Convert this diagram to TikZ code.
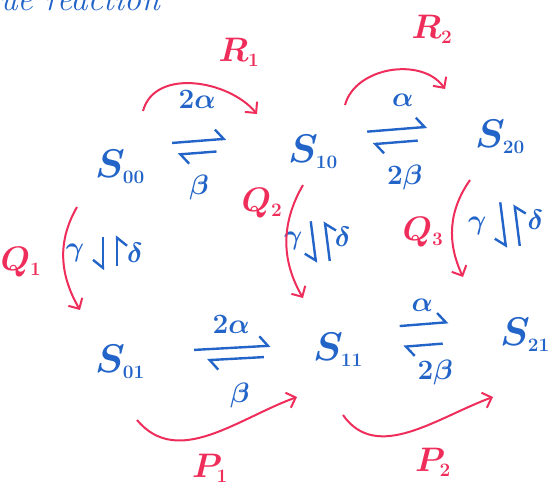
\documentclass[tikz,border=0pt]{standalone}
\usepackage{fix-cm}
\usetikzlibrary{arrows.meta, calc, positioning}
\definecolor{ink}{RGB}{35,100,200}
\definecolor{pen}{RGB}{238,45,90}
\tikzstyle{state} = [
    text=ink,
    font=\fontsize{40}{44}\selectfont\boldmath
]
\tikzstyle{rate} = [
    text=ink,
    font=\fontsize{28}{30}\selectfont\boldmath
]
\tikzstyle{tag} = [
    text=pen,
    font=\fontsize{34}{36}\selectfont\boldmath
]
\tikzstyle{harp} = [ink, line width=2.4pt,
    -{Straight Barb[left, length=8pt, width=20pt]}]
\tikzstyle{harpr} = [ink, line width=2.4pt,
    -{Straight Barb[right, length=8pt, width=20pt]}]
\tikzstyle{flow} = [pen, line width=2pt,
    -{Straight Barb[length=8pt, width=16pt]}]
\newcommand{\sub}[1]{_{\mbox{\fontsize{19}{20}\selectfont\bfseries #1}}}

\begin{document}
\begin{tikzpicture}[x=1pt, y=1pt, node distance=190pt]

\useasboundingbox (0,0) rectangle (556,491);
\clip (0,0) rectangle (556,491);

\node (title) [text=ink, font=\fontsize{34}{36}\selectfont\itshape,
    anchor=base west] at (-4,480) {ue reaction};

% states
\node (s00) [state] at (120,324) {$S\sub{00}$};
\node (s10) [state, right of=s00, xshift=3pt, yshift=15pt]
{$S\sub{10}$};
\node (s20) [state, right of=s10, xshift=-3pt, yshift=15pt]
{$S\sub{20}$};
\node (s01) [state, below of=s00, node distance=195pt]
{$S\sub{01}$};
\node (s11) [state, right of=s01, xshift=28pt, yshift=12pt]
{$S\sub{11}$};
\node (s21) [state, right of=s11, xshift=-3pt, yshift=15pt]
{$S\sub{21}$};

% horizontal rates
\draw [harp] ($(s00)!.27!(s10)+(0,20)$) -- ($(s00)!.55!(s10)+(0,20)$);
\draw [harp] ($(s00)!.50!(s10)+(0,8)$) -- ($(s00)!.30!(s10)+(0,8)$);
\node (a1) [rate] at ($(s00)!.40!(s10)+(0,62)$) {$2\alpha$};
\node (b1) [rate] at ($(s00)!.41!(s10)+(0,-27)$) {$\beta$};

\draw [harp] ($(s10)!.29!(s20)+(0,16)$) -- ($(s10)!.61!(s20)+(0,16)$);
\draw [harp] ($(s10)!.56!(s20)+(0,3)$) -- ($(s10)!.32!(s20)+(0,3)$);
\node (a2) [rate] at ($(s10)!.48!(s20)+(0,45)$) {$\alpha$};
\node (b2) [rate] at ($(s10)!.49!(s20)+(0,-33)$) {$2\beta$};

\draw [harp] ($(s01)!.34!(s11)+(0,8)$) -- ($(s01)!.69!(s11)+(0,8)$);
\draw [harp] ($(s01)!.66!(s11)+(0,-3)$) -- ($(s01)!.40!(s11)+(0,-3)$);
\node (a3) [rate] at ($(s01)!.51!(s11)+(0,31)$) {$2\alpha$};
\node (b3) [rate] at ($(s01)!.55!(s11)+(0,-40)$) {$\beta$};

\draw [harp] ($(s11)!.33!(s21)+(0,19)$) -- ($(s11)!.59!(s21)+(0,19)$);
\draw [harp] ($(s11)!.56!(s21)+(0,-2)$) -- ($(s11)!.35!(s21)+(0,-2)$);
\node (a4) [rate] at ($(s11)!.45!(s21)+(0,38)$) {$\alpha$};
\node (b4) [rate] at ($(s11)!.52!(s21)+(0,-30)$) {$2\beta$};

% vertical rates
\draw [harpr] ($(s00)!.36!(s01)+(-17,0)$) -- ($(s00)!.53!(s01)+(-17,0)$);
\draw [harpr] ($(s00)!.51!(s01)+(-3,0)$) -- ($(s00)!.35!(s01)+(-3,0)$);
\node (g1) [rate] at ($(s00)!.44!(s01)+(-45,0)$) {$\gamma$};
\node (d1) [rate] at ($(s00)!.44!(s01)+(15,0)$) {$\delta$};

\draw [harpr] ($(s10)!.35!(s11)+(-11,0)$) -- ($(s10)!.56!(s11)+(-11,0)$);
\draw [harpr] ($(s10)!.55!(s11)+(3,0)$) -- ($(s10)!.35!(s11)+(3,0)$);
\node (g2) [rate] at ($(s10)!.45!(s11)+(-31,0)$) {$\gamma$};
\node (d2) [rate] at ($(s10)!.43!(s11)+(19,0)$) {$\delta$};

\draw [harpr] ($(s20)!.33!(s21)+(-8,0)$) -- ($(s20)!.56!(s21)+(-8,0)$);
\draw [harpr] ($(s20)!.55!(s21)+(6,0)$) -- ($(s20)!.34!(s21)+(6,0)$);
\node (g3) [rate] at ($(s20)!.45!(s21)+(-34,0)$) {$\gamma$};
\node (d3) [rate] at ($(s20)!.42!(s21)+(25,0)$) {$\delta$};

% flows
\draw [flow] ([xshift=23pt, yshift=56pt]s00.center) to[out=75, in=130]
    ([xshift=-56pt, yshift=38pt]s10.center);
\draw [flow] ([xshift=32pt, yshift=47pt]s10.center) to[out=75, in=125]
    ([xshift=-55pt, yshift=48pt]s20.center);
\draw [flow] ([xshift=-43pt, yshift=-40pt]s00.center) to[out=240, in=120]
    ([xshift=-40pt, yshift=52pt]s01.center);
\draw [flow] ([xshift=-10pt, yshift=-33pt]s10.center) to[out=240, in=120]
    ([xshift=-35pt, yshift=52pt]s11.center);
\draw [flow] ([xshift=-30pt, yshift=-43pt]s20.center) to[out=235, in=115]
    ([xshift=-62pt, yshift=58pt]s21.center);
\draw [flow] ([xshift=17pt, yshift=-58pt]s01.center) to[out=-50, in=200]
    ([xshift=-41pt, yshift=-47pt]s11.center);
\draw [flow] ([xshift=5pt, yshift=-65pt]s11.center) to[out=-55, in=200]
    ([xshift=-32pt, yshift=-62pt]s21.center);

\node (r1) [tag] at (239,439) {$R\sub{1}$};
\node (r2) [tag] at (432,462) {$R\sub{2}$};
\node (q1) [tag] at (21,229) {$Q\sub{1}$};
\node (q2) [tag] at (262,288) {$Q\sub{2}$};
\node (q3) [tag] at (423,259) {$Q\sub{3}$};
\node (p1) [tag] at (210,23) {$P\sub{1}$};
\node (p2) [tag] at (433,29) {$P\sub{2}$};

\end{tikzpicture}
\end{document}
